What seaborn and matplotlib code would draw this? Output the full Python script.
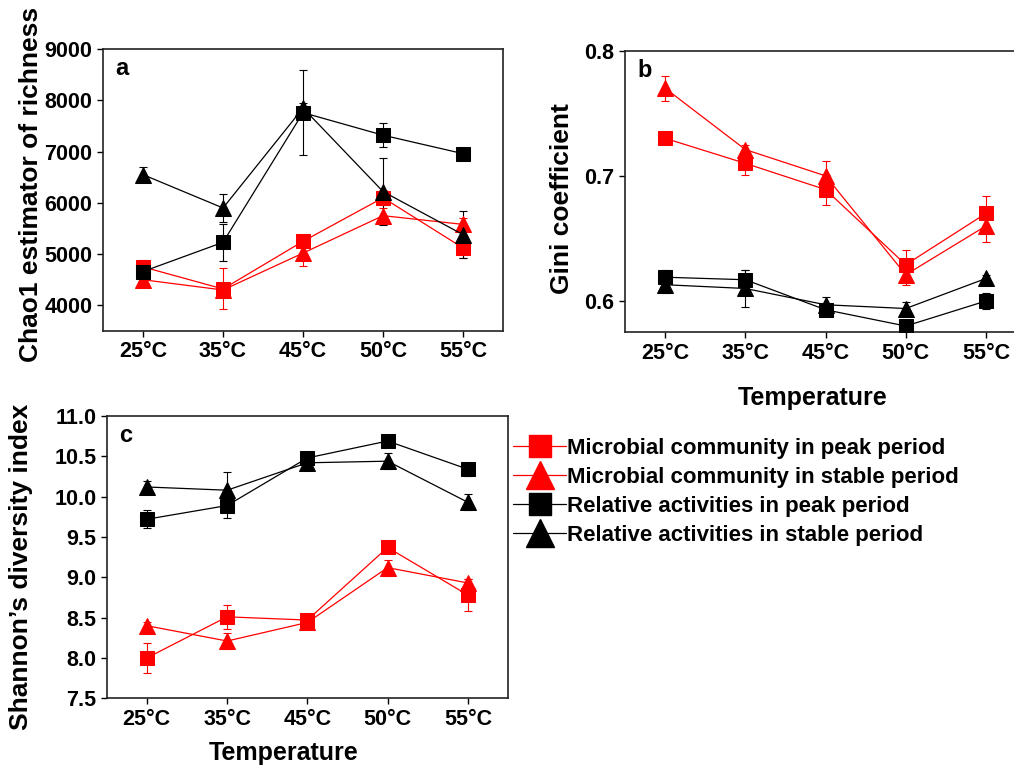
"""
Chao1 richness, Gini coefficient and Shannon diversity vs temperature
"""
import pandas as pd
import numpy as np
import matplotlib
matplotlib.use("Agg")
import matplotlib.pyplot as plt
import seaborn as sns
from matplotlib.lines import Line2D

temps = ["25°C", "35°C", "45°C", "50°C", "55°C"]
series = ["Microbial community in peak period", "Microbial community in stable period",
          "Relative activities in peak period", "Relative activities in stable period"]

# panel a: Chao1 estimator
chao_mp = [4750, 4320, 5250, 6100, 5120]
chao_ms = [4500, 4300, 5020, 5750, 5580]
chao_rp = [4660, 5230, 7760, 7320, 6960]
chao_rs = [6550, 5900, 7850, 6220, 5380]
chao_mp_err = [130, 400, 120, 150, 200]
chao_ms_err = [130, 120, 260, 150, 120]
chao_rp_err = [150, 360, 830, 230, 100]
chao_rs_err = [150, 280, 100, 650, 460]

# panel b: Gini coefficient
gini_mp = [0.730, 0.710, 0.689, 0.629, 0.670]
gini_ms = [0.770, 0.721, 0.700, 0.621, 0.660]
gini_rp = [0.619, 0.617, 0.593, 0.580, 0.600]
gini_rs = [0.613, 0.610, 0.597, 0.594, 0.618]
gini_mp_err = [0.003, 0.009, 0.012, 0.012, 0.014]
gini_ms_err = [0.010, 0.004, 0.012, 0.008, 0.013]
gini_rp_err = [0.006, 0.008, 0.004, 0.003, 0.006]
gini_rs_err = [0.007, 0.015, 0.006, 0.005, 0.003]

# panel c: Shannon diversity
shan_mp = [8.00, 8.51, 8.47, 9.37, 8.78]
shan_ms = [8.40, 8.21, 8.44, 9.12, 8.93]
shan_rp = [9.72, 9.89, 10.48, 10.69, 10.34]
shan_rs = [10.12, 10.08, 10.42, 10.44, 9.93]
shan_mp_err = [0.19, 0.15, 0.08, 0.05, 0.20]
shan_ms_err = [0.05, 0.10, 0.08, 0.10, 0.05]
shan_rp_err = [0.11, 0.16, 0.08, 0.05, 0.08]
shan_rs_err = [0.08, 0.23, 0.08, 0.10, 0.10]

colors = ["#ff0000", "#ff0000", "#000000", "#000000"]
markers = ["s", "^", "s", "^"]
msizes = [9.5, 12, 9.5, 12]

sns.set_style("ticks")
plt.rcParams["font.family"] = ["Liberation Sans", "DejaVu Sans"]
plt.rcParams["font.weight"] = "bold"
plt.rcParams["axes.labelweight"] = "bold"
for key in ["text.color", "axes.labelcolor", "xtick.color", "ytick.color"]:
    plt.rcParams[key] = "black"


def make_df(vals, errs):
    rows = []
    for name, v, e in zip(series, vals, errs):
        for t, y, s in zip(temps, v, e):
            rows.append({"temp": t, "value": y, "err": s, "series": name})
    return pd.DataFrame(rows)


def draw_panel(ax, df, ylim, yticks, ylabel, letter):
    for name, col, mk, ms in zip(series, colors, markers, msizes):
        sub = df[df["series"] == name]
        ax.errorbar(sub["temp"], sub["value"], yerr=sub["err"], fmt="none",
                    ecolor=col, elinewidth=0.8, capsize=3, capthick=0.8, zorder=2)
        sns.lineplot(data=sub, x="temp", y="value", ax=ax, color=col, lw=0.9,
                     marker=mk, markersize=ms, markeredgecolor=col,
                     sort=False, legend=False, zorder=3)
    ax.set_xlim(-0.5, 4.5)
    ax.set_ylim(*ylim)
    ax.set_yticks(yticks)
    ax.set_ylabel(ylabel, fontsize=19)
    ax.set_xlabel("")
    ax.tick_params(labelsize=15.5, length=4, width=1)
    for sp in ax.spines.values():
        sp.set_visible(True)
        sp.set_linewidth(1.2)
        sp.set_color("#222222")
    ax.text(0.03, 0.93, letter, transform=ax.transAxes, fontsize=17,
            fontweight="bold", va="center", ha="left")


fig = plt.figure(figsize=(10.14, 7.66), dpi=100)
ax_a = fig.add_axes([0.1016, 0.5679, 0.3945, 0.368])
ax_b = fig.add_axes([0.6164, 0.5662, 0.3955, 0.3676])
ax_c = fig.add_axes([0.1052, 0.0884, 0.3958, 0.3685])

df_a = make_df([chao_mp, chao_ms, chao_rp, chao_rs],
               [chao_mp_err, chao_ms_err, chao_rp_err, chao_rs_err])
df_b = make_df([gini_mp, gini_ms, gini_rp, gini_rs],
               [gini_mp_err, gini_ms_err, gini_rp_err, gini_rs_err])
df_c = make_df([shan_mp, shan_ms, shan_rp, shan_rs],
               [shan_mp_err, shan_ms_err, shan_rp_err, shan_rs_err])

draw_panel(ax_a, df_a, (3500, 9000), [4000, 5000, 6000, 7000, 8000, 9000],
           "Chao1 estimator of richness", "a")
draw_panel(ax_b, df_b, (0.575, 0.8), [0.6, 0.7, 0.8], "Gini coefficient", "b")
ax_b.set_yticklabels(["0.6", "0.7", "0.8"])
draw_panel(ax_c, df_c, (7.5, 11.0), [7.5, 8.0, 8.5, 9.0, 9.5, 10.0, 10.5, 11.0],
           "Shannon’s diversity index", "c")
ax_c.set_yticklabels([f"{v:.1f}" for v in ax_c.get_yticks()])

ax_a.yaxis.set_label_coords(-0.15, 0.52)
ax_b.yaxis.set_label_coords(-0.127, 0.475)
ax_c.yaxis.set_label_coords(-0.184, 0.465)

ax_b.set_xlabel("Temperature", fontsize=18)
ax_b.xaxis.set_label_coords(0.469, -0.19)
ax_c.set_xlabel("Temperature", fontsize=18)
ax_c.xaxis.set_label_coords(0.44, -0.15)

handles = [Line2D([], [], color=c, lw=0.9, marker=m, markersize=s * 1.7,
                  markeredgecolor=c)
           for c, m, s in zip(colors, markers, msizes)]
fig.legend(handles, series, loc="upper left",
           bbox_to_anchor=(513 / 1014, 1 - 438 / 766), frameon=False,
           fontsize=16, handlelength=2.4, handletextpad=0.05,
           labelspacing=0.36, borderpad=0, borderaxespad=0)

fig.savefig("out.png", dpi=100)
